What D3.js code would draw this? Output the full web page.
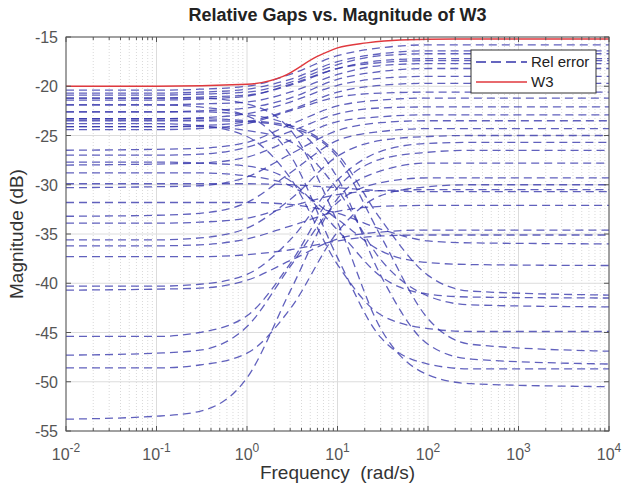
<!DOCTYPE html>
<html>
<head>
<meta charset="utf-8">
<script src="https://cdn.jsdelivr.net/npm/d3@7"></script>
<style>
  body { margin: 0; background: #fff; }
  text { font-family: "Liberation Sans", Arial, Helvetica, sans-serif; }
</style>
</head>
<body>
<div id="chart"></div>
<script>
// frequency grid (rad/s) shared by all relative error curves
var freqs = [0.01, 0.1, 0.3, 1, 3, 10, 30, 100, 300, 10000];

// curves that rise with frequency (dB at each freq above)
var risingCurves = [
  [-20.4, -20.4, -20.3, -20.0, -18.8, -16.9, -16.1, -15.8, -15.8, -15.8],
  [-20.7, -20.7, -20.6, -20.3, -19.3, -17.5, -16.7, -16.4, -16.4, -16.4],
  [-20.9, -20.9, -20.8, -20.6, -19.6, -17.8, -16.9, -16.7, -16.7, -16.7],
  [-21.2, -21.2, -21.1, -20.9, -19.9, -18.2, -17.4, -17.2, -17.2, -17.2],
  [-21.4, -21.4, -21.3, -21.0, -19.8, -18.2, -17.6, -17.4, -17.4, -17.4],
  [-21.9, -21.9, -21.8, -21.6, -20.6, -18.8, -17.9, -17.7, -17.7, -17.7],
  [-22.6, -22.6, -22.5, -22.2, -21.2, -19.3, -18.5, -18.2, -18.2, -18.2],
  [-23.3, -23.3, -23.2, -22.8, -21.6, -19.9, -19.2, -19.0, -19.0, -19.0],
  [-24.1, -24.1, -24.0, -23.6, -22.4, -20.6, -19.9, -19.7, -19.7, -19.7],
  [-24.4, -24.4, -24.3, -23.8, -22.5, -21.1, -20.7, -20.6, -20.6, -20.6],
  [-26.5, -26.4, -26.3, -25.7, -23.9, -22.0, -21.4, -21.2, -21.2, -21.2],
  [-27.0, -27.0, -26.9, -26.2, -24.6, -22.8, -22.2, -22.1, -22.1, -22.1],
  [-28.0, -27.9, -27.8, -27.2, -25.5, -23.6, -23.1, -22.9, -22.9, -22.9],
  [-30.3, -30.2, -30.1, -29.2, -26.9, -24.5, -23.7, -23.5, -23.5, -23.5],
  [-33.2, -33.1, -32.9, -31.8, -28.8, -25.5, -24.6, -24.3, -24.3, -24.3],
  [-35.6, -35.6, -35.4, -34.4, -31.5, -27.1, -25.5, -25.1, -25.0, -25.0],
  [-40.3, -40.3, -40.1, -39.1, -35.6, -29.5, -26.6, -25.8, -25.7, -25.7],
  [-45.4, -45.4, -45.0, -43.3, -38.0, -30.3, -27.4, -26.7, -26.5, -26.5],
  [-53.8, -53.5, -53.0, -49.6, -40.8, -31.4, -28.6, -27.8, -27.8, -27.8],
  [-47.3, -47.1, -46.8, -44.4, -38.3, -31.8, -29.8, -29.3, -29.3, -29.3],
  [-48.6, -48.6, -48.3, -47.1, -42.6, -34.8, -31.1, -30.2, -30.0, -30.0],
  [-33.9, -33.9, -33.8, -33.4, -32.2, -31.0, -30.6, -30.5, -30.5, -30.5],
  [-40.7, -40.6, -40.5, -39.7, -37.7, -35.5, -34.8, -34.6, -34.6, -34.6],
  [-37.3, -37.3, -37.3, -37.1, -36.6, -35.7, -35.2, -35.1, -35.1, -35.1],
  [-36.2, -36.2, -36.1, -35.5, -34.2, -32.7, -32.2, -32.1, -32.1, -32.1]
];

// curves that fall with frequency
var fallingCurves = [
  [-31.8, -31.8, -31.8, -31.8, -32.0, -32.9, -34.5, -35.7, -35.9, -36.0],
  [-29.9, -29.9, -29.9, -29.9, -30.0, -30.3, -30.6, -30.7, -30.7, -30.7],
  [-28.8, -28.8, -28.8, -29.1, -30.1, -33.5, -36.7, -37.9, -38.1, -38.2],
  [-21.2, -21.2, -21.2, -21.8, -24.4, -33.8, -44.6, -49.3, -50.2, -50.5],
  [-21.9, -21.9, -22.1, -23.0, -27.0, -37.4, -45.5, -48.2, -48.7, -48.7],
  [-22.6, -22.6, -22.6, -22.9, -24.0, -29.3, -39.2, -46.2, -47.7, -48.2],
  [-23.5, -23.5, -23.5, -23.6, -24.2, -27.2, -35.2, -43.6, -46.2, -46.9],
  [-23.8, -23.8, -24.0, -25.1, -29.3, -38.1, -43.2, -44.6, -44.9, -44.9],
  [-24.1, -24.1, -24.1, -24.5, -25.6, -30.5, -37.6, -41.3, -42.2, -42.4],
  [-27.7, -27.7, -27.8, -28.1, -29.6, -34.6, -39.3, -41.1, -41.4, -41.5],
  [-23.3, -23.3, -23.3, -23.5, -24.0, -26.9, -33.5, -39.2, -40.8, -41.2]
];

// W3 magnitude
var w3Freq = [0.01, 0.1, 1, 2.5, 5.9, 10, 21, 49, 200, 10000];
var w3Mag  = [-20.0, -20.0, -19.8, -19.0, -17.0, -16.1, -15.6, -15.3, -15.2, -15.2];

var xTickExps = [-2, -1, 0, 1, 2, 3, 4];
var yTicks = [-55, -50, -45, -40, -35, -30, -25, -20, -15];
var legendLabels = ["Rel error", "W3"];

var W = 623, H = 488;
var margin = {top: 37, right: 14, bottom: 57, left: 66};
var width = W - margin.left - margin.right,
    height = H - margin.top - margin.bottom;

var svg = d3.select("#chart").append("svg")
    .attr("width", W).attr("height", H)
    .style("background", "#fff");

var x = d3.scaleLog().domain([1e-2, 1e4]).range([0, width]);
var y = d3.scaleLinear().domain([-55, -15]).range([height, 0]);

var g = svg.append("g").attr("transform", "translate(" + margin.left + "," + margin.top + ")");

svg.append("defs").append("clipPath").attr("id", "clip")
  .append("rect").attr("width", width).attr("height", height);

// minor ticks positions on log axis
var minorX = [];
xTickExps.slice(0, -1).forEach(function (e) {
  for (var k = 2; k <= 9; k++) minorX.push(k * Math.pow(10, e));
});

// grid
g.selectAll(".minorgrid").data(minorX).enter().append("line")
  .attr("x1", d => x(d)).attr("x2", d => x(d))
  .attr("y1", 0).attr("y2", height)
  .attr("stroke", "#d9d9d9").attr("stroke-dasharray", "1,2");
g.selectAll(".xgrid").data(xTickExps).enter().append("line")
  .attr("x1", d => x(Math.pow(10, d))).attr("x2", d => x(Math.pow(10, d)))
  .attr("y1", 0).attr("y2", height)
  .attr("stroke", "#dcdcdc");
g.selectAll(".ygrid").data(yTicks).enter().append("line")
  .attr("x1", 0).attr("x2", width)
  .attr("y1", d => y(d)).attr("y2", d => y(d))
  .attr("stroke", "#dcdcdc");

var line = d3.line()
  .x(d => x(d[0]))
  .y(d => y(d[1]))
  .curve(d3.curveMonotoneX);

var plot = g.append("g").attr("clip-path", "url(#clip)");

risingCurves.concat(fallingCurves).forEach(function (vals) {
  plot.append("path")
    .datum(freqs.map((f, i) => [f, vals[i]]))
    .attr("d", line)
    .attr("fill", "none")
    .attr("stroke", "#3434aa")
    .attr("stroke-opacity", 0.78)
    .attr("stroke-width", 1.3)
    .attr("stroke-dasharray", "8,5");
});

plot.append("path")
  .datum(w3Freq.map((f, i) => [f, w3Mag[i]]))
  .attr("d", line)
  .attr("fill", "none")
  .attr("stroke", "#e0393e")
  .attr("stroke-width", 1.4);

// axes box
g.append("rect").attr("width", width).attr("height", height)
  .attr("fill", "none").attr("stroke", "#555").attr("stroke-width", 1);

// ticks (inside)
xTickExps.forEach(function (e) {
  var xx = x(Math.pow(10, e));
  g.append("line").attr("x1", xx).attr("x2", xx).attr("y1", height).attr("y2", height - 5).attr("stroke", "#555");
  g.append("line").attr("x1", xx).attr("x2", xx).attr("y1", 0).attr("y2", 5).attr("stroke", "#555");
});
minorX.forEach(function (d) {
  var xx = x(d);
  g.append("line").attr("x1", xx).attr("x2", xx).attr("y1", height).attr("y2", height - 3).attr("stroke", "#555");
  g.append("line").attr("x1", xx).attr("x2", xx).attr("y1", 0).attr("y2", 3).attr("stroke", "#555");
});
yTicks.forEach(function (t) {
  var yy = y(t);
  g.append("line").attr("x1", 0).attr("x2", 5).attr("y1", yy).attr("y2", yy).attr("stroke", "#555");
  g.append("line").attr("x1", width).attr("x2", width - 5).attr("y1", yy).attr("y2", yy).attr("stroke", "#555");
  g.append("text").attr("x", -8).attr("y", yy + 6)
    .attr("text-anchor", "end").attr("font-size", 16).attr("fill", "#555")
    .text(t);
});

xTickExps.forEach(function (e) {
  var t = g.append("text")
    .attr("x", x(Math.pow(10, e))).attr("y", height + 29)
    .attr("text-anchor", "middle").attr("font-size", 16).attr("fill", "#555");
  t.append("tspan").text("10");
  t.append("tspan").attr("dy", -8).attr("font-size", 12).text(e);
});

// labels
svg.append("text").attr("x", margin.left + width / 2).attr("y", 21)
  .attr("text-anchor", "middle").attr("font-size", 18).attr("font-weight", "bold").attr("fill", "#222")
  .text("Relative Gaps vs. Magnitude of W3");
svg.append("text").attr("x", margin.left + width / 2).attr("y", 479)
  .attr("text-anchor", "middle").attr("font-size", 19).attr("fill", "#333")
  .attr("xml:space", "preserve")
  .text("Frequency  (rad/s)");
svg.append("text")
  .attr("transform", "translate(23," + (margin.top + height / 2) + ") rotate(-90)")
  .attr("text-anchor", "middle").attr("font-size", 19).attr("fill", "#333")
  .text("Magnitude (dB)");

// legend
var lg = svg.append("g").attr("transform", "translate(471,50)");
lg.append("rect").attr("width", 125).attr("height", 43)
  .attr("fill", "#fff").attr("stroke", "#333").attr("stroke-width", 1);
lg.append("line").attr("x1", 5).attr("x2", 56).attr("y1", 12).attr("y2", 12)
  .attr("stroke", "#3434aa").attr("stroke-width", 1.3).attr("stroke-dasharray", "10,5");
lg.append("line").attr("x1", 5).attr("x2", 56).attr("y1", 32).attr("y2", 32)
  .attr("stroke", "#e0393e").attr("stroke-width", 1.4);
legendLabels.forEach(function (s, i) {
  lg.append("text").attr("x", 60).attr("y", 17 + i * 20)
    .attr("font-size", 15).attr("fill", "#222").text(s);
});
</script>
</body>
</html>
